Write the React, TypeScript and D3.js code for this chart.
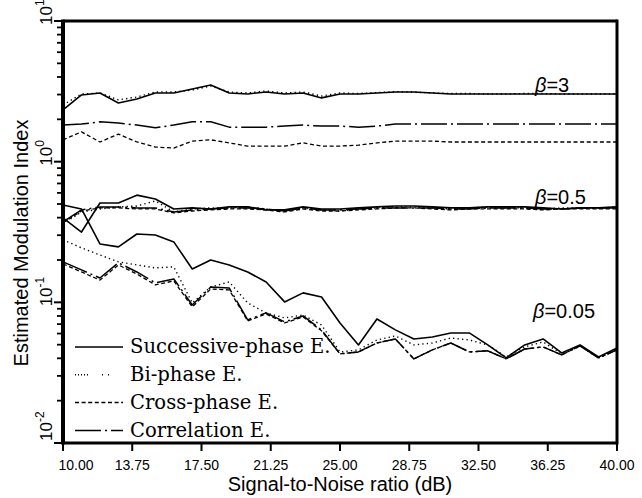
import React from "react";
import * as d3 from "d3";

const snr = [10, 11, 12, 13, 14, 15, 16, 17, 18, 19, 20, 21, 22, 23, 24, 25, 26, 27, 28, 29, 30, 31, 32, 33, 34, 35, 36, 37, 38, 39, 40];
const xTicks = [10, 13.75, 17.5, 21.25, 25, 28.75, 32.5, 36.25, 40];
const yMajor = [0.01, 0.1, 1, 10];
const yExp = ["-2", "-1", "0", "1"];

// beta = 3
const succ3 = [2.33, 2.98, 3.08, 2.61, 2.79, 3.08, 3.08, 3.29, 3.51, 3.08, 3.03, 3.13, 3.03, 3.08, 2.84, 3.03, 3.03, 3.08, 3.13, 3.13, 3.08, 3.03, 3.03, 3.03, 3.03, 3.03, 3.03, 3.03, 3.03, 3.03, 3.03];
const bi3 = [2.53, 3.03, 3.08, 2.75, 2.88, 3.13, 3.13, 3.23, 3.45, 3.13, 3.08, 3.18, 3.08, 3.13, 2.93, 3.08, 3.05, 3.10, 3.15, 3.12, 3.08, 3.05, 3.05, 3.03, 3.03, 3.05, 3.05, 3.03, 3.03, 3.03, 3.03];
const cross3 = [1.43, 1.63, 1.38, 1.57, 1.38, 1.27, 1.25, 1.40, 1.43, 1.36, 1.29, 1.29, 1.29, 1.36, 1.29, 1.29, 1.31, 1.36, 1.40, 1.40, 1.40, 1.38, 1.38, 1.38, 1.38, 1.38, 1.38, 1.38, 1.38, 1.38, 1.38];
const corr3 = [1.82, 1.85, 1.92, 1.88, 1.82, 1.74, 1.82, 1.92, 1.92, 1.76, 1.76, 1.76, 1.79, 1.82, 1.79, 1.79, 1.76, 1.79, 1.85, 1.85, 1.85, 1.85, 1.85, 1.85, 1.85, 1.85, 1.85, 1.85, 1.85, 1.85, 1.85];

// beta = 0.5
const succ05 = [0.398, 0.316, 0.508, 0.508, 0.578, 0.543, 0.461, 0.469, 0.461, 0.477, 0.477, 0.454, 0.454, 0.477, 0.461, 0.461, 0.469, 0.477, 0.484, 0.484, 0.477, 0.469, 0.469, 0.477, 0.477, 0.477, 0.469, 0.461, 0.469, 0.469, 0.477];
const bi05 = [0.361, 0.439, 0.461, 0.477, 0.484, 0.526, 0.439, 0.461, 0.469, 0.469, 0.477, 0.461, 0.446, 0.469, 0.454, 0.446, 0.461, 0.469, 0.477, 0.477, 0.469, 0.461, 0.469, 0.477, 0.469, 0.469, 0.461, 0.469, 0.469, 0.469, 0.477];
const cross05 = [0.367, 0.446, 0.469, 0.469, 0.461, 0.461, 0.432, 0.446, 0.454, 0.461, 0.461, 0.454, 0.439, 0.461, 0.446, 0.446, 0.454, 0.461, 0.469, 0.469, 0.461, 0.454, 0.461, 0.461, 0.461, 0.461, 0.454, 0.461, 0.461, 0.461, 0.461];
const corr05 = [0.373, 0.454, 0.477, 0.477, 0.469, 0.469, 0.439, 0.454, 0.461, 0.469, 0.469, 0.461, 0.446, 0.469, 0.454, 0.454, 0.461, 0.469, 0.469, 0.469, 0.469, 0.461, 0.461, 0.469, 0.469, 0.469, 0.461, 0.461, 0.469, 0.469, 0.469];

// beta = 0.05
const succ005 = [0.492, 0.461, 0.260, 0.248, 0.306, 0.301, 0.269, 0.1726, 0.200, 0.1845, 0.1644, 0.1396, 0.1007, 0.1167, 0.109, 0.0714, 0.0498, 0.0762, 0.0637, 0.0549, 0.0567, 0.0606, 0.0606, 0.0498, 0.0403, 0.0498, 0.0549, 0.0437, 0.0498, 0.0409, 0.0474];
const bi005 = [0.278, 0.244, 0.217, 0.194, 0.1845, 0.1757, 0.1786, 0.099, 0.1286, 0.1396, 0.099, 0.0841, 0.0775, 0.0813, 0.069, 0.0444, 0.0459, 0.054, 0.0577, 0.0498, 0.0514, 0.0558, 0.054, 0.0498, 0.0409, 0.0482, 0.0523, 0.043, 0.049, 0.0403, 0.0459];
const cross005 = [0.1875, 0.1644, 0.144, 0.1845, 0.159, 0.133, 0.142, 0.0927, 0.1245, 0.1225, 0.0738, 0.0827, 0.0714, 0.0787, 0.0627, 0.043, 0.0444, 0.0514, 0.0549, 0.0396, 0.0459, 0.0514, 0.0444, 0.0452, 0.0396, 0.0466, 0.0482, 0.0423, 0.049, 0.0403, 0.0459];
const corr005 = [0.194, 0.170, 0.149, 0.191, 0.1644, 0.1374, 0.1466, 0.0958, 0.1286, 0.1265, 0.075, 0.0841, 0.0726, 0.080, 0.0637, 0.043, 0.0444, 0.0514, 0.0549, 0.0396, 0.0459, 0.0514, 0.0444, 0.0452, 0.0396, 0.0466, 0.0482, 0.0423, 0.049, 0.0403, 0.0459];

const legendNames = ["Successive-phase E.", "Bi-phase E.", "Cross-phase E.", "Correlation E."];
const betaLabels = ["=3", "=0.5", "=0.05"];
const betaValues = [3, 0.5, 0.05];

const W = 642, H = 498;
const L = 63, R = 617, T = 21, B = 443;

const styles = [
  { dash: "none", w: 1.6 },
  { dash: "1.3 3.2", w: 1.4 },
  { dash: "4 2.6", w: 1.3 },
  { dash: "26 4 2 4", w: 1.5 },
];
const legendDash = ["none", "1 2 1 2 1 2 1 2 1 14 1 5 1 20", "4 2.6", "26 4 2 4"];

export default function App() {
  const x = d3.scaleLinear().domain([10, 40]).range([L, R]);
  const y = d3.scaleLog().domain([0.01, 10]).range([B, T]);
  const line = d3
    .line<number>()
    .x((_, i) => x(snr[i]))
    .y((v) => y(v));

  const groups = [
    [succ3, bi3, cross3, corr3],
    [succ05, bi05, cross05, corr05],
    [succ005, bi005, cross005, corr005],
  ];

  const minor: number[] = [];
  [0.01, 0.1, 1].forEach((dec) => {
    for (let k = 2; k <= 9; k++) minor.push(dec * k);
  });

  const labelY = [92, 204, 318];
  const labelX = [535, 535, 533];

  return (
    <svg
      width={W}
      height={H}
      style={{ position: "absolute", left: 0, top: 0, background: "#fff" }}
      fontFamily="'Liberation Sans', Arial, sans-serif"
    >
      <rect x={0} y={0} width={W} height={H} fill="#fff" />
      {groups.map((g, gi) =>
        g.map((s, si) => (
          <path
            key={`${gi}-${si}`}
            d={line(s) || ""}
            fill="none"
            stroke="#000"
            strokeWidth={styles[si].w}
            strokeDasharray={styles[si].dash}
            strokeLinejoin="round"
          />
        ))
      )}
      <line x1={L} x2={L} y1={T - 1.5} y2={B + 1.5} stroke="#000" strokeWidth={4} />
      <line x1={R} x2={R} y1={T - 1.5} y2={B + 1.5} stroke="#000" strokeWidth={3} />
      <line x1={L} x2={R} y1={T} y2={T} stroke="#000" strokeWidth={3} />
      <line x1={L} x2={R} y1={B} y2={B} stroke="#000" strokeWidth={3} />
      {yMajor.map((v) => (
        <line key={`ym${v}`} x1={L - 9} x2={L} y1={y(v)} y2={y(v)} stroke="#000" strokeWidth={2} />
      ))}
      {minor.map((v) => (
        <line key={`yn${v}`} x1={L - 6} x2={L} y1={y(v)} y2={y(v)} stroke="#000" strokeWidth={1.8} />
      ))}
      {yMajor.map((v, i) => (
        <text
          key={`yl${v}`}
          transform={`translate(52, ${y(v) + (i === 0 ? -2 : 4)}) rotate(-90)`}
          fontSize={17}
          textAnchor="start"
        >
          10
          <tspan fontSize={12} dy={-8}>
            {yExp[i]}
          </tspan>
        </text>
      ))}
      {xTicks.map((v, i) => (
        <g key={`xt${v}`}>
          <line x1={x(v)} x2={x(v)} y1={B} y2={B + 8} stroke="#000" strokeWidth={2} />
          <text x={x(v) + (i === 0 ? 13 : 0)} y={470} fontSize={14} textAnchor="middle">
            {d3.format(".2f")(v)}
          </text>
        </g>
      ))}
      <text x={340} y={491} fontSize={20} textAnchor="middle">
        Signal-to-Noise ratio (dB)
      </text>
      <text transform="translate(28, 243) rotate(-90)" fontSize={20} textAnchor="middle">
        Estimated Modulation Index
      </text>
      {betaValues.map((b, i) => (
        <text key={`b${b}`} x={labelX[i]} y={labelY[i]} fontSize={20}>
          <tspan fontStyle="italic">β</tspan>
          {betaLabels[i]}
        </text>
      ))}
      {legendNames.map((n, i) => (
        <g key={n}>
          <line
            x1={75}
            x2={123}
            y1={347 + i * 27.8}
            y2={347 + i * 27.8}
            stroke="#000"
            strokeWidth={i === 1 ? 1.4 : 1.5}
            strokeDasharray={legendDash[i]}
          />
          <text x={130} y={353 + i * 28} fontSize={19.6} fontFamily="'DejaVu Serif', serif">
            {n}
          </text>
        </g>
      ))}
    </svg>
  );
}
